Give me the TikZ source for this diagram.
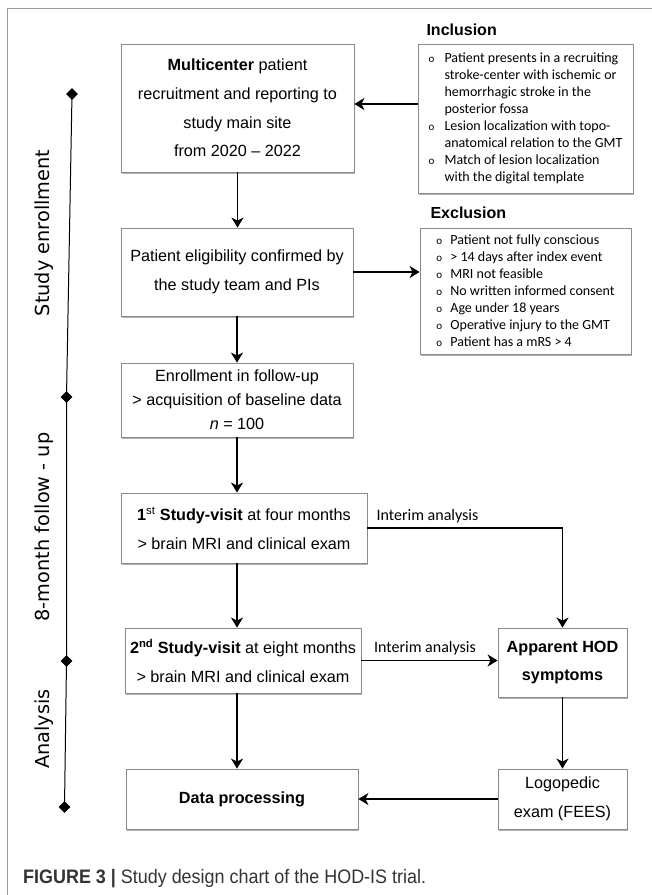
\documentclass[tikz,border=0pt]{standalone}
\usepackage{fontspec}
\setmainfont{Liberation Sans}
\newfontfamily\calfont{Carlito}
\newfontfamily\dvfont{DejaVu Sans}
\usetikzlibrary{arrows.meta,shadows,shapes.geometric,calc}
\definecolor{boxline}{HTML}{8A8A8A}
\definecolor{framecol}{HTML}{9A9A9A}
\definecolor{capcol}{HTML}{333333}
\newcommand{\bul}{\makebox[16pt][l]{\fontsize{11}{11}\selectfont o}}
\newcommand{\ind}{\hspace*{16pt}}
\newcommand{\bulx}{\makebox[14pt][l]{\fontsize{11}{11}\selectfont o}}
\begin{document}
\begin{tikzpicture}[x=1pt,y=-1pt,
  box/.style={draw=boxline,line width=0.8pt,fill=white,
    drop shadow={shadow xshift=1.2pt,shadow yshift=-1.6pt,opacity=0.3,fill=black},
    inner sep=0pt,align=center,font=\fontsize{16.2}{28.7}\selectfont},
  listbox/.style={box,font=\calfont\fontsize{14}{17}\selectfont,align=left},
  arr/.style={line width=1.8pt,-{Stealth[length=10pt,width=12pt,inset=3pt]}},
  diam/.style={diamond,fill=black,inner sep=0pt,minimum width=12pt,minimum height=12pt},
  phase/.style={rotate=90,font=\dvfont\fontsize{19.3}{20}\selectfont},
  ttl/.style={anchor=base west,font=\bfseries\fontsize{16}{16}\selectfont},
  interim/.style={anchor=base,font=\calfont\fontsize{16}{16}\selectfont}
]
\useasboundingbox (0,0) rectangle (652,895);
% frame
\draw[framecol,line width=1.2pt] (7.5,895) -- (7.5,8.3) -- (652,8.3);

% boxes
\node[box,minimum width=233pt,minimum height=128pt] (multi) at (237.5,108)
  {\textbf{Multicenter} patient\\recruitment and reporting to\\study main site\\from 2020 -- 2022};
\node[listbox,minimum width=215pt,minimum height=149pt] (incl) at (525.5,118.5)
  {\bul Patient presents in a recruiting\\
   \ind stroke-center with ischemic or\\
   \ind hemorrhagic stroke in the\\
   \ind posterior fossa\\
   \bul Lesion localization with topo-\\
   \ind anatomical relation to the GMT\\
   \bul Match of lesion localization\\
   \ind with the digital template};
\node[box,minimum width=232pt,minimum height=88pt] (elig) at (237,272)
  {Patient eligibility confirmed by\\the study team and PIs};
\node[listbox,minimum width=211pt,minimum height=126pt] (excl) at (525.5,291)
  {\bulx Patient not fully conscious\\
   \bulx > 14 days after index event\\
   \bulx MRI not feasible\\
   \bulx No written informed consent\\
   \bulx Age under 18 years\\
   \bulx Operative injury to the GMT\\
   \bulx Patient has a mRS > 4};
\node[box,minimum width=232pt,minimum height=74pt,font=\fontsize{16.2}{24}\selectfont] (enroll) at (237,400)
  {Enrollment in follow-up\\> acquisition of baseline data\\\textit{n} = 100};
\node[box,minimum width=246pt,minimum height=70pt] (visit1) at (244,528)
  {\textbf{1}\textsuperscript{st} \textbf{Study-visit} at four months\\> brain MRI and clinical exam};
\node[box,minimum width=236pt,minimum height=65pt] (visit2) at (243,660.5)
  {\textbf{2\textsuperscript{nd} Study-visit} at eight months\\> brain MRI and clinical exam};
\node[box,minimum width=129pt,minimum height=69pt,font=\bfseries\fontsize{16.2}{28.7}\selectfont] (hod) at (562.5,662.5)
  {Apparent HOD\\symptoms};
\node[box,minimum width=232pt,minimum height=60pt,font=\bfseries\fontsize{16.2}{28.7}\selectfont] (data) at (242,799)
  {Data processing};
\node[box,minimum width=129pt,minimum height=60pt] (logo) at (562.5,799)
  {Logopedic\\exam (FEES)};

% titles
\node[ttl] (inct) at (423,35) {Inclusion};
\node[ttl] (exct) at (427,218) {Exclusion};

% connectors
\coordinate (inA) at (418,104);
\draw[arr] (inA) -- (inA -| multi.east);
\draw[arr] (multi.south) -- (multi.south |- elig.north);
\draw[arr] (elig.east) -- (elig.east -| excl.west);
\draw[arr] (elig.south) -- (elig.south |- enroll.north);
\draw[arr] (enroll.south) -- (enroll.south |- visit1.north);
\draw[arr] (enroll.south |- visit1.south) -- (enroll.south |- visit2.north);
\draw[arr] (visit1.east) -| (hod.north);
\draw[arr] (visit2.east) -- (visit2.east -| hod.west);
\draw[arr] (enroll.south |- visit2.south) -- (enroll.south |- data.north);
\draw[arr] (hod.south) -- (hod.south |- logo.north);
\draw[arr] (logo.west) -- (logo.west -| data.east);

\node[interim] (ia1) at (427.5,520.5) {Interim analysis};
\node[interim] (ia2) at (425,652.5) {Interim analysis};

% timeline
\node[diam] (d1) at (72,94) {};
\node[diam] (d2) at (66.5,397) {};
\node[diam] (d3) at (66.5,661) {};
\node[diam] (d4) at (64.5,807) {};
\draw[line width=1pt] (d1.center) -- (d2.center) -- (d3.center) -- (d4.center);

\node[phase] (p1) at (44,233) {Study enrollment};
\node[phase] (p2) at (44,527) {8-month follow - up};
\node[phase] (p3) at (44,729) {Analysis};

% caption
\node[anchor=base west,text=capcol,inner sep=0pt,font=\fontsize{19.5}{20}\selectfont] (cap) at (23,883)
  {\scalebox{0.92}[1]{\textbf{FIGURE 3 |} Study design chart of the HOD-IS trial.}};
\end{tikzpicture}
\end{document}
